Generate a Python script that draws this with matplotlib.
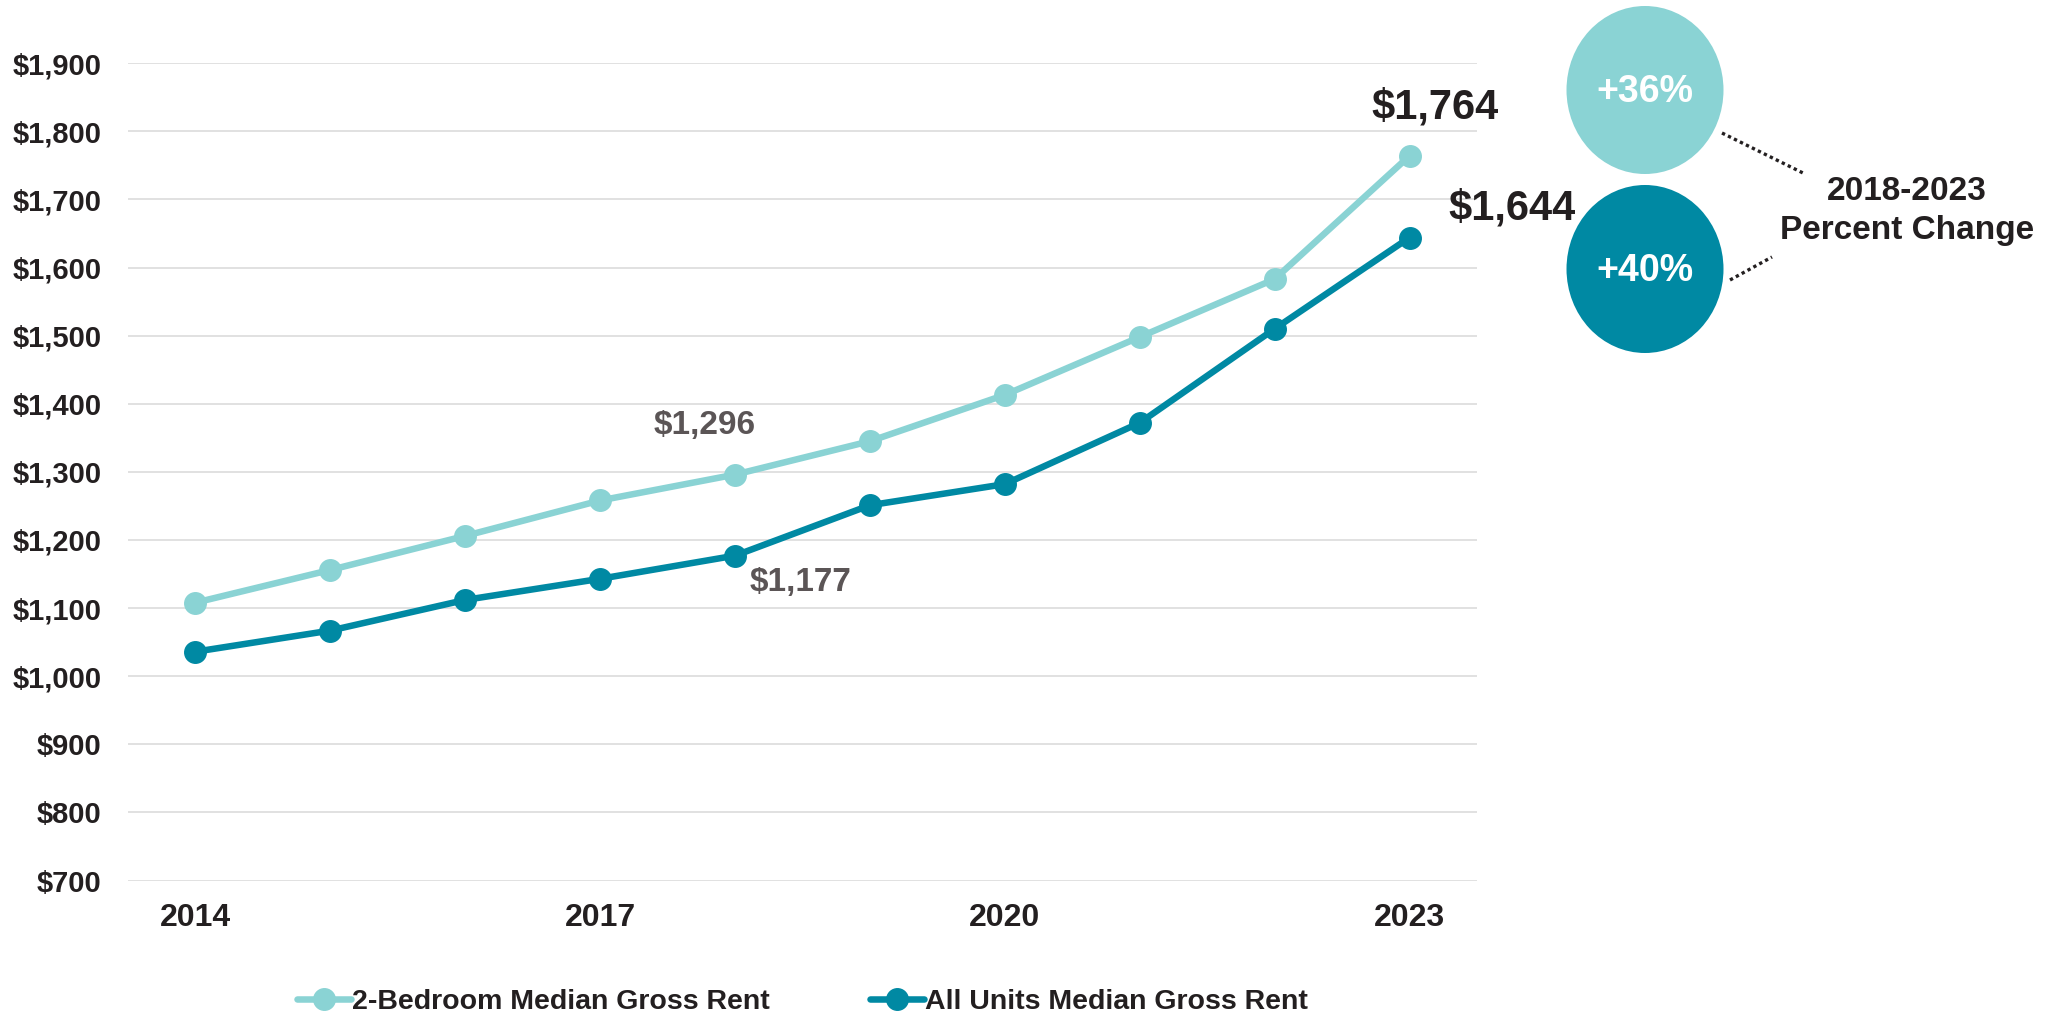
import matplotlib.pyplot as plt
from matplotlib.patches import Ellipse

plt.rcParams['font.family'] = ['Liberation Sans', 'DejaVu Sans']
plt.rcParams['font.weight'] = 'bold'

# data
years = [2014, 2015, 2016, 2017, 2018, 2019, 2020, 2021, 2022, 2023]
two_bed = [1108, 1156, 1206, 1258, 1296, 1345, 1413, 1498, 1583, 1764]
all_units = [1036, 1067, 1112, 1143, 1177, 1251, 1282, 1372, 1510, 1644]
yticks = list(range(700, 2000, 100))
xticks = [2014, 2017, 2020, 2023]
pct_labels = ['+36%', '+40%']

light = '#8AD3D4'
dark = '#0089A3'
txt = '#231F20'
gray = '#5B5556'

fig = plt.figure(figsize=(20.64, 10.14), dpi=100)
ax = fig.add_axes([0.062, 0.1316, 0.6536, 0.8061])

ax.plot(years, two_bed, color=light, lw=4.7, marker='o', ms=15.5,
        label='2-Bedroom Median Gross Rent', solid_capstyle='round', zorder=3)
ax.plot(years, all_units, color=dark, lw=4.7, marker='o', ms=15.5,
        label='All Units Median Gross Rent', solid_capstyle='round', zorder=3)

ax.set_xlim(2013.5, 2023.5)
ax.set_ylim(700, 1900)
ax.set_yticks(yticks)
ax.set_yticklabels(['${:,}'.format(v) for v in yticks])
ax.set_xticks(xticks)
ax.tick_params(axis='y', length=0, pad=19, labelsize=21, labelcolor=txt)
ax.tick_params(axis='x', length=0, pad=16, labelsize=23, labelcolor=txt)
ax.grid(axis='y', color='#D9D9D9', lw=1.1)
ax.set_axisbelow(True)
for s in ax.spines.values():
    s.set_visible(False)

# point labels
ax.annotate('${:,}'.format(two_bed[4]), (years[4], two_bed[4]), xytext=(-21.5, 35),
            textcoords='offset points', ha='center', va='center', fontsize=24, color=gray)
ax.annotate('${:,}'.format(all_units[4]), (years[4], all_units[4]), xytext=(47.5, -19),
            textcoords='offset points', ha='center', va='center', fontsize=24, color=gray)
ax.annotate('${:,}'.format(two_bed[-1]), (years[-1], two_bed[-1]), xytext=(18, 34.5),
            textcoords='offset points', ha='center', va='center', fontsize=30, color=txt,
            bbox=dict(facecolor='white', edgecolor='none', pad=1), annotation_clip=False)
ax.annotate('${:,}'.format(all_units[-1]), (years[-1], all_units[-1]), xytext=(74, 21),
            textcoords='offset points', ha='center', va='center', fontsize=30, color=txt,
            annotation_clip=False)

leg = ax.legend(loc='center', bbox_to_anchor=(0.5, -0.1485), ncol=2, frameon=False,
                fontsize=20.5, handlelength=1.9, handletextpad=0.05, columnspacing=3.5)
for t in leg.get_texts():
    t.set_color(txt)

# percent change bubbles (pixel overlay)
ov = fig.add_axes([0, 0, 1, 1])
ov.set_xlim(0, 2064)
ov.set_ylim(1014, 0)
ov.axis('off')
for (cy, col, lab) in [(90, light, pct_labels[0]), (269, dark, pct_labels[1])]:
    ov.add_patch(Ellipse((1645, cy), 157, 168, color=col, lw=0))
    ov.text(1645, cy + 2, lab, ha='center', va='center', color='white', fontsize=27)
ov.plot([1722, 1803], [133, 173], ls=(0, (1, 1)), color=txt, lw=2.4)
ov.plot([1730, 1772], [280, 257], ls=(0, (1, 1)), color=txt, lw=2.4)
ov.text(1907, 211, '2018-2023\nPercent Change', ha='center', va='center',
        fontsize=24, color=txt, linespacing=1.3)

fig.savefig('out.png', dpi=100)
